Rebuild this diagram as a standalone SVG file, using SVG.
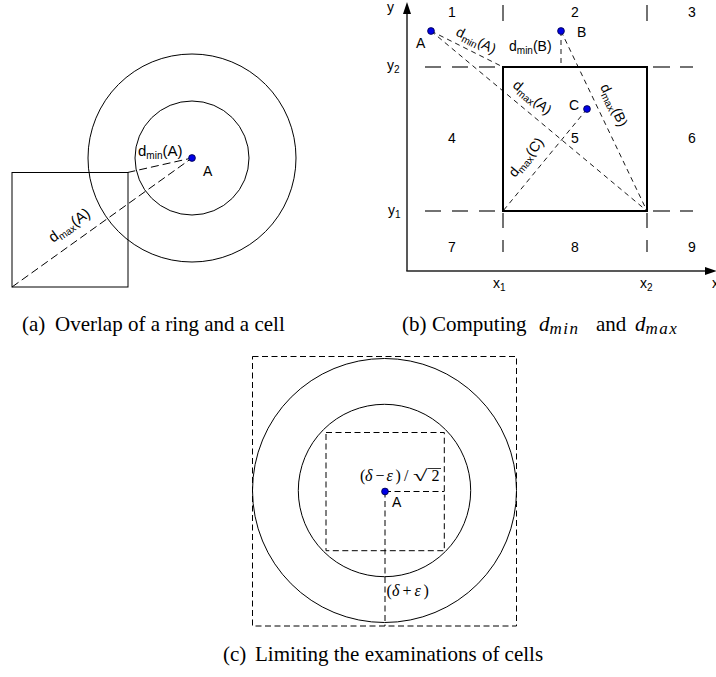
<svg xmlns="http://www.w3.org/2000/svg" width="716" height="677" viewBox="0 0 716 677">
<style>
.ln{fill:none;stroke:#000;stroke-width:1}
.da{fill:none;stroke:#000;stroke-width:1;stroke-dasharray:8 4}
.db{fill:none;stroke:#000;stroke-width:0.9;stroke-dasharray:5 4}
.dc{fill:none;stroke:#000;stroke-width:1;stroke-dasharray:6 3.5}
.grid{fill:none;stroke:#444;stroke-width:1.5}
.axis{fill:none;stroke:#222;stroke-width:1.5}
.cell{fill:none;stroke:#000;stroke-width:2}
.pt{fill:#0000e6;stroke:#000040;stroke-width:0.8}
.lbl{font-family:"Liberation Sans",Arial,sans-serif;font-size:14px;fill:#000}
.lbla{font-family:"Liberation Sans",Arial,sans-serif;font-size:15px;fill:#000}
.sub{font-size:10px}
.math{font-family:"Liberation Serif","Times New Roman",serif;font-size:16px;fill:#000}
.it{font-style:italic}
.cap{font-family:"Liberation Serif","Times New Roman",serif;font-size:21px;fill:#000}
.msub{font-size:17px;letter-spacing:1.5px}
</style>

<!-- Panel (a) -->
<g id="a-outer-ring"><circle class="ln" cx="192" cy="158" r="104"/></g>
<g id="a-inner-ring"><circle class="ln" cx="192" cy="158" r="57"/></g>
<g id="a-cell"><rect class="ln" x="12" y="172.5" width="116" height="114.5"/></g>
<g id="a-connectors">
<line class="da" x1="127.5" y1="172.5" x2="192" y2="158"/>
<line class="da" x1="12" y1="287" x2="192" y2="158"/>
<text class="lbla" x="138" y="156">d<tspan class="sub" dy="3">min</tspan><tspan dy="-3">(A)</tspan></text>
<text class="lbla" transform="translate(53,243) rotate(-35.6)">d<tspan class="sub" dy="3">max</tspan><tspan dy="-3">(A)</tspan></text>
</g>
<g id="a-point-A"><circle class="pt" cx="192" cy="158" r="3.4"/><text class="lbl" x="203" y="176">A</text></g>

<!-- Panel (b) -->
<g id="b-axes">
<line class="axis" x1="407" y1="271" x2="407" y2="14"/>
<path d="M407,2 L403,14 L411,14 Z" fill="#000"/>
<line class="axis" x1="406.3" y1="271" x2="705" y2="271"/>
<path d="M717,271 L705,267 L705,275 Z" fill="#000"/>
<text class="lbl" x="387" y="12">y</text>
<text class="lbl" x="712" y="288">x</text>
<text class="lbl" x="387" y="70">y<tspan class="sub" dy="3">2</tspan></text>
<text class="lbl" x="388" y="215">y<tspan class="sub" dy="3">1</tspan></text>
<text class="lbl" x="493" y="288">x<tspan class="sub" dy="3">1</tspan></text>
<text class="lbl" x="640" y="288">x<tspan class="sub" dy="3">2</tspan></text>
</g>
<g id="b-grid">
<path class="grid" d="M425,67 H441 M452,67 H468 M479,67 H495 M653,67 H670 M680,67 H693"/>
<path class="grid" d="M425,211 H441 M452,211 H468 M479,211 H495 M653,211 H670 M680,211 H693"/>
<path class="grid" d="M503,5 V21 M503,213 V228 M503,240 V252"/>
<path class="grid" d="M647,5 V21 M647,213 V228 M647,240 V252"/>
</g>
<g id="b-cell"><rect class="cell" x="503" y="67" width="144" height="144"/></g>
<g id="b-cell-numbers" class="lbl" text-anchor="middle">
<text x="452" y="17">1</text><text x="575" y="17">2</text><text x="692" y="17">3</text>
<text x="452" y="143">4</text><text x="575" y="143">5</text><text x="692" y="143">6</text>
<text x="452" y="252">7</text><text x="575" y="252">8</text><text x="692" y="252">9</text>
</g>
<g id="b-connectors">
<line class="db" x1="431" y1="31" x2="503" y2="67"/>
<line class="db" x1="431" y1="31" x2="647" y2="211"/>
<line class="db" x1="561" y1="31" x2="561" y2="67"/>
<line class="db" x1="561" y1="31" x2="647" y2="211"/>
<line class="db" x1="587" y1="109" x2="503" y2="211"/>
<text class="lbl" transform="translate(455,35) rotate(26.6)">d<tspan class="sub" dy="3">min</tspan><tspan dy="-3">(A)</tspan></text>
<text class="lbl" transform="translate(512,86.5) rotate(39.8)">d<tspan class="sub" dy="3">max</tspan><tspan dy="-3">(A)</tspan></text>
<text class="lbl" transform="translate(600,86.7) rotate(64.5)">d<tspan class="sub" dy="3">max</tspan><tspan dy="-3">(B)</tspan></text>
<text class="lbl" transform="translate(515,178) rotate(-50.5)">d<tspan class="sub" dy="3">max</tspan><tspan dy="-3">(C)</tspan></text>
<text class="lbl" x="509" y="51">d<tspan class="sub" dy="3">min</tspan><tspan dy="-3">(B)</tspan></text>
</g>
<g id="b-point-A"><circle class="pt" cx="431" cy="31" r="3.4"/><text class="lbl" x="416" y="48">A</text></g>
<g id="b-point-B"><circle class="pt" cx="561" cy="31" r="3.4"/><text class="lbl" x="577" y="37">B</text></g>
<g id="b-point-C"><circle class="pt" cx="587" cy="109" r="3.4"/><text class="lbl" x="569" y="110">C</text></g>

<!-- Panel (c) -->
<g id="c-outer-square"><rect class="dc" x="252.5" y="356.5" width="264" height="269.5"/></g>
<g id="c-outer-ring"><circle class="ln" cx="384.5" cy="490.5" r="132"/></g>
<g id="c-inner-ring"><circle class="ln" cx="384.5" cy="490.5" r="86.2"/></g>
<g id="c-inner-square"><rect class="dc" x="326" y="432.5" width="118.3" height="118.2"/></g>
<g id="c-connectors">
<line class="dc" x1="385" y1="491.5" x2="444.3" y2="491.5"/>
<line class="dc" x1="385" y1="491.5" x2="385" y2="626"/>
<text class="math" y="481"><tspan x="360">(</tspan><tspan class="it" x="365">δ</tspan><tspan x="375.5">−</tspan><tspan class="it" x="386.5">ε</tspan><tspan x="395.5">)</tspan><tspan x="404">/</tspan><tspan x="431.5">2</tspan></text>
<text class="math" transform="translate(413,481) scale(1.65,1)">√</text>
<line x1="427.5" y1="468.5" x2="441" y2="468.5" stroke="#000" stroke-width="0.8"/>
<text class="math" y="596"><tspan x="386.5">(</tspan><tspan class="it" x="392">δ</tspan><tspan x="402.5">+</tspan><tspan class="it" x="414.5">ε</tspan><tspan x="423.5">)</tspan></text>
</g>
<g id="c-point-A"><circle class="pt" cx="385" cy="491.5" r="3.4"/><text class="lbl" x="392" y="507">A</text></g>

<!-- Captions -->
<g id="captions" class="cap">
<text x="22" y="331">(a)</text><text x="55" y="331">Overlap of a ring and a cell</text>
<text x="402" y="331">(b)</text><text x="432" y="331">Computing</text>
<text x="539" y="331"><tspan class="it">d</tspan><tspan class="it msub" dy="3">min</tspan></text>
<text x="596" y="331">and</text>
<text x="635" y="331"><tspan class="it">d</tspan><tspan class="it msub" dy="3">max</tspan></text>
<text x="223" y="661">(c)</text><text x="255" y="661">Limiting the examinations of cells</text>
</g>
</svg>
